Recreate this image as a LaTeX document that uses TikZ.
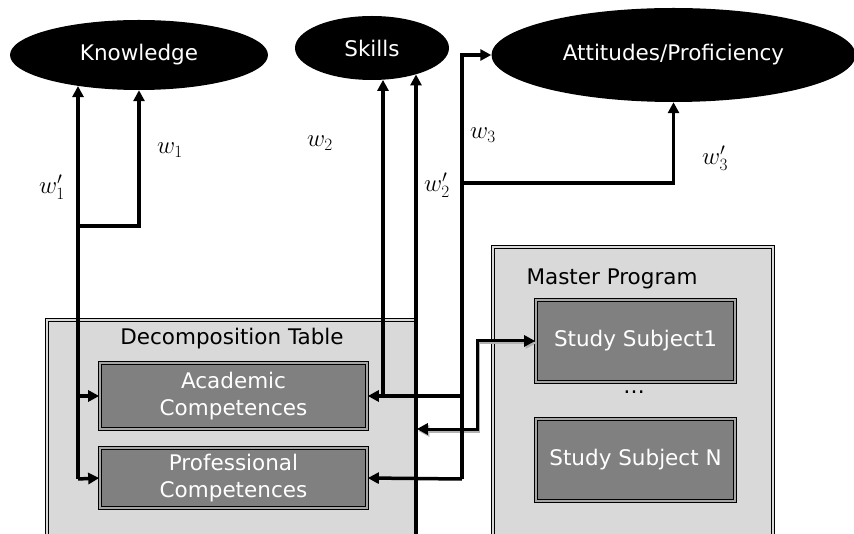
\documentclass[tikz,border=0pt]{standalone}
\usepackage{fontspec}
\setmainfont{DejaVu Sans}
\usetikzlibrary{calc, shapes, arrows.meta}

\begin{document}
\begin{tikzpicture}[x=1pt,y=-1pt,font=\fontsize{21.5}{27}\selectfont]
\tikzstyle{goal}=[ellipse,fill=black,text=white,inner sep=0pt]
\tikzstyle{frame}=[rectangle,draw=black,line width=1.6pt,double=black!15,double distance=1.4pt,fill=black!15,inner sep=0pt]
\tikzstyle{item}=[rectangle,draw=black,line width=1.6pt,double=black!35,double distance=1.2pt,fill=black!50,text=white,align=center,inner sep=0pt]
\tikzstyle{wire}=[line width=3.5pt,-{Triangle[length=11pt,width=11pt]}]
\tikzstyle{link}=[line width=3pt,{Triangle[length=11pt,width=11pt]}-{Triangle[length=11pt,width=11pt]}]
\tikzstyle{weight}=[font=\fontsize{25}{30}\selectfont]
\clip (0,0) rectangle (854,534);
% goals
\node[goal,minimum width=258pt,minimum height=70pt] (K) at (139,55) {Knowledge};
\node[goal,minimum width=154pt,minimum height=64pt] (S) at (372,48) {Skills};
\node[goal,minimum width=364pt,minimum height=94pt] (A) at (673.5,55) {Attitudes/Proficiency};
% boxes
\node[frame,minimum width=369pt,minimum height=240pt] (DT) at (231.5,440) {};
\node (DT_t) at (232,339) {Decomposition Table};
\node[item,minimum width=267pt,minimum height=66pt] (AC) at (233.5,396) {Academic\\Competences};
\node[item,minimum width=267pt,minimum height=60pt] (PC) at (233.5,478) {Professional\\Competences};
\node[frame,minimum width=280pt,minimum height=313pt] (MP) at (633,403.5) {};
\node (MP_t) at (612,279) {Master Program};
\node[item,minimum width=199pt,minimum height=82pt] (SS_1) at (635.5,341) {Study Subject1};
\node (SS_d) at (634,392) {\ldots};
\node[item,minimum width=199pt,minimum height=82pt] (SS_N) at (635.5,460) {Study Subject N};
% corners
\coordinate (p_1) at (78,479);
\coordinate (p_2) at (78,226);
\coordinate (p_3) at (383,396);
\coordinate (p_5) at (416,545);
\coordinate (p_6) at (462,479);
\coordinate (p_7) at (462,183);
\coordinate (p_8) at (477,429);
% master program link (shadow first)
\begin{scope}[transform canvas={shift={(1.5pt,-2pt)}}]
\draw[link,black!30] (SS_1.west) -| (p_8) -- (DT.east |- p_8);
\end{scope}
\draw[link] (SS_1.west) -| (p_8) -- (DT.east |- p_8);
% knowledge
\draw[wire] (p_1) -- (p_1 |- K.-153);
\draw[wire] (p_1) -- (PC.west);
\draw[wire] (p_1 |- AC.west) -- (AC.west);
\draw[wire] (p_2) -| (K.south);
% skills
\draw[wire] (p_3) -- (p_3 |- S.-71);
\draw[wire] (p_5) -- (p_5 |- S.-31);
% attitudes
\draw[wire] (p_6) |- (A.west);
\draw[wire] (p_6) -- (PC.east);
\draw[wire] (p_6 |- AC.east) -- (AC.east);
\draw[wire] (p_7) -| (A.south);
% weights
\node[weight] (w_1p) at (52,187) {$w_1'$};
\node[weight] (w_1) at (170,150) {$w_1$};
\node[weight] (w_2) at (320,143) {$w_2$};
\node[weight] (w_2p) at (437,185) {$w_2'$};
\node[weight] (w_3) at (483,135) {$w_3$};
\node[weight] (w_3p) at (715,158) {$w_3'$};
\end{tikzpicture}
\end{document}
